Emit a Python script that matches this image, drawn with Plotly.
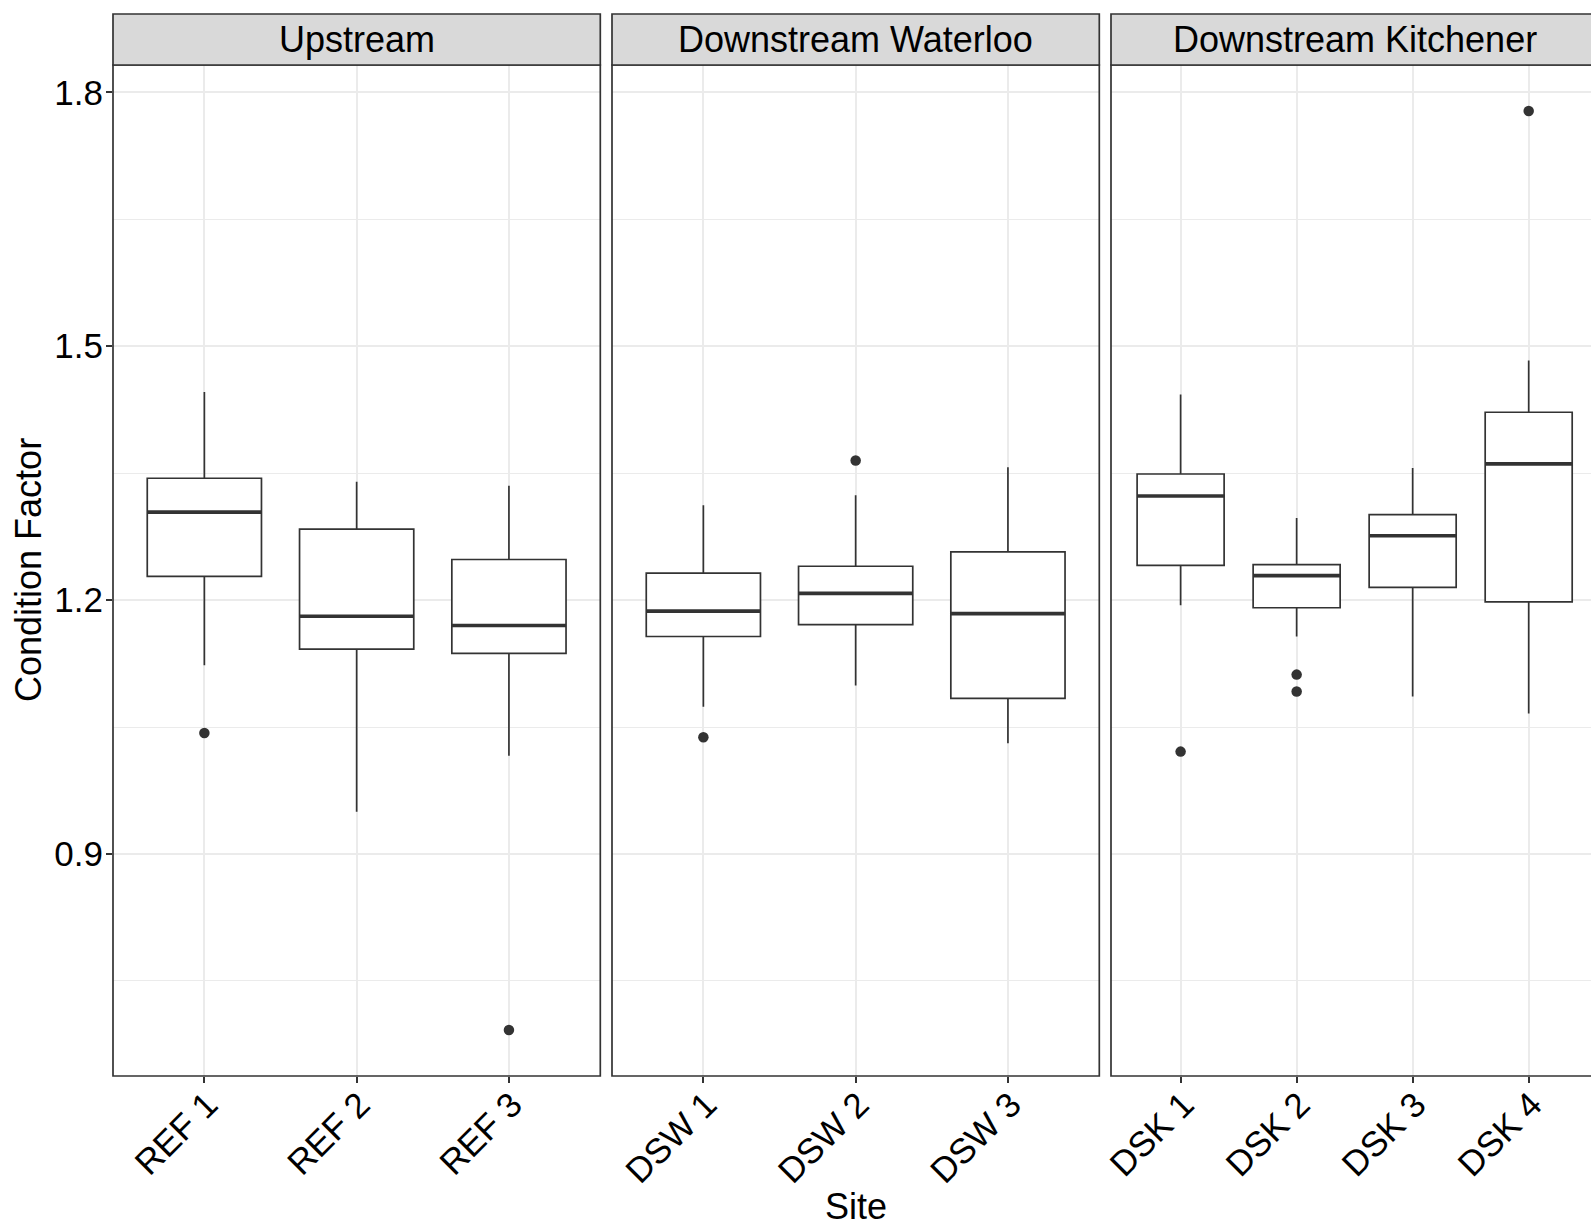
import plotly.graph_objects as go

# ---- data: condition factor summaries by site ----
panel_names = ["Upstream", "Downstream Waterloo", "Downstream Kitchener"]

ref_sites = ["REF 1", "REF 2", "REF 3"]
ref_lower = [1.123, 0.950, 1.016]
ref_q1 = [1.228, 1.142, 1.137]
ref_median = [1.304, 1.181, 1.170]
ref_q3 = [1.344, 1.284, 1.248]
ref_upper = [1.446, 1.340, 1.335]

dsw_sites = ["DSW 1", "DSW 2", "DSW 3"]
dsw_lower = [1.074, 1.099, 1.031]
dsw_q1 = [1.157, 1.171, 1.084]
dsw_median = [1.187, 1.208, 1.184]
dsw_q3 = [1.232, 1.240, 1.257]
dsw_upper = [1.312, 1.324, 1.357]

dsk_sites = ["DSK 1", "DSK 2", "DSK 3", "DSK 4"]
dsk_lower = [1.194, 1.157, 1.086, 1.066]
dsk_q1 = [1.241, 1.191, 1.215, 1.198]
dsk_median = [1.323, 1.229, 1.276, 1.361]
dsk_q3 = [1.349, 1.242, 1.301, 1.422]
dsk_upper = [1.443, 1.297, 1.356, 1.483]

outlier_sites = ["REF 1", "REF 3", "DSW 1", "DSW 2", "DSK 1", "DSK 2", "DSK 2", "DSK 4"]
outlier_values = [1.043, 0.692, 1.038, 1.365, 1.021, 1.112, 1.092, 1.778]

# ---- styling ----
FONT = "Liberation Sans, Arial, Helvetica, sans-serif"
DARK = "#333333"
GRID = "#EBEBEB"
STRIP = "#D9D9D9"
BOX_W = 0.75

W, H = 1591, 1228
ML, MT, MB = 113, 65, 152
PW = W - ML            # plotting width in px
PH = H - MT - MB       # plotting height in px
PANEL_PX = 487.3       # width of each facet panel
STEP_PX = 499.0        # panel width + spacing


def px_x(px):
    return px / PW


panels = [
    (ref_sites, ref_lower, ref_q1, ref_median, ref_q3, ref_upper),
    (dsw_sites, dsw_lower, dsw_q1, dsw_median, dsw_q3, dsw_upper),
    (dsk_sites, dsk_lower, dsk_q1, dsk_median, dsk_q3, dsk_upper),
]

all_vals = ref_lower + ref_upper + dsw_lower + dsw_upper + dsk_lower + dsk_upper + outlier_values
vmin, vmax = min(all_vals), max(all_vals)
pad = 0.05 * (vmax - vmin)
y_range = [vmin - pad, vmax + pad]

fig = go.Figure()
layout = {}
shapes = []
annotations = []

for i, (sites, lo, q1, med, q3, hi) in enumerate(panels):
    n = len(sites)
    pos = list(range(1, n + 1))
    sfx = "" if i == 0 else str(i + 1)
    xa, ya = "x" + sfx, "y" + sfx

    left_px = i * STEP_PX
    right_px = left_px + PANEL_PX
    unit_px = PANEL_PX / (n - 1 + 2 * 0.6)
    x_hi = 0.4 + (min(right_px, PW) - left_px) / unit_px

    fig.add_trace(go.Box(
        x=pos, q1=q1, median=med, q3=q3, lowerfence=lo, upperfence=hi,
        width=BOX_W, whiskerwidth=0, boxpoints=False,
        fillcolor="white", line=dict(color=DARK, width=1.7),
        xaxis=xa, yaxis=ya, showlegend=False,
    ))

    # thicker median bars
    mx, my = [], []
    for p, m in zip(pos, med):
        mx += [p - BOX_W / 2, p + BOX_W / 2, None]
        my += [m, m, None]
    fig.add_trace(go.Scatter(
        x=mx, y=my, mode="lines", line=dict(color=DARK, width=3.6),
        xaxis=xa, yaxis=ya, showlegend=False, hoverinfo="skip",
    ))

    # outlying points
    ox = [sites.index(s) + 1 for s in outlier_sites if s in sites]
    oy = [v for s, v in zip(outlier_sites, outlier_values) if s in sites]
    fig.add_trace(go.Scatter(
        x=ox, y=oy, mode="markers", marker=dict(color=DARK, size=10.5),
        xaxis=xa, yaxis=ya, showlegend=False,
    ))

    layout["xaxis" + sfx] = dict(
        domain=[px_x(left_px), min(1.0, px_x(right_px))],
        range=[0.4, x_hi], anchor=ya,
        tickmode="array", tickvals=pos, ticktext=sites, tickangle=-45,
        ticks="outside", ticklen=6, tickwidth=1.5, tickcolor=DARK,
        ticklabelstandoff=-13, ticklabelshift=3,
        tickfont=dict(family=FONT, size=35, color="black"),
        showgrid=True, gridcolor=GRID, gridwidth=2,
        zeroline=False, showline=False, fixedrange=True,
    )
    yax = dict(
        domain=[0, 1], range=y_range, anchor=xa,
        tickmode="linear", tick0=0.9, dtick=0.3, tickformat=".1f",
        showgrid=True, gridcolor=GRID, gridwidth=2,
        minor=dict(tickmode="array", tickvals=[0.75, 1.05, 1.35, 1.65],
                   showgrid=True, gridcolor=GRID, gridwidth=1, ticks=""),
        zeroline=False, showline=False, fixedrange=True,
    )
    if i == 0:
        yax.update(ticks="outside", ticklen=6, tickwidth=1.5, tickcolor=DARK,
                   ticklabelstandoff=-4,
                   tickfont=dict(family=FONT, size=35, color="black"))
    else:
        yax.update(matches="y", showticklabels=False, ticks="")
    layout["yaxis" + sfx] = yax

    # panel border and strip
    x0p, x1p = px_x(left_px), px_x(right_px)
    shapes.append(dict(type="rect", xref="paper", yref="paper",
                       x0=x0p, x1=x1p, y0=0, y1=1,
                       line=dict(color=DARK, width=1.7), layer="above"))
    shapes.append(dict(type="rect", xref="paper", yref="paper",
                       x0=x0p, x1=x1p, y0=1, y1=1 + 51 / PH,
                       fillcolor=STRIP, line=dict(color=DARK, width=1.7),
                       layer="above"))
    annotations.append(dict(
        text=panel_names[i], xref="paper", yref="paper",
        x=(x0p + x1p) / 2, y=1 + 25.5 / PH, xanchor="center", yanchor="middle",
        showarrow=False, font=dict(family=FONT, size=36, color="black"),
    ))

annotations.append(dict(
    text="Condition Factor", xref="paper", yref="paper",
    x=px_x(28.5 - ML), y=0.5, xanchor="center", yanchor="middle",
    textangle=-90, showarrow=False, font=dict(family=FONT, size=36, color="black"),
))
annotations.append(dict(
    text="Site", xref="paper", yref="paper",
    x=px_x(855.5 - ML), y=-MB / PH,
    xanchor="center", yanchor="bottom", borderpad=0,
    showarrow=False, font=dict(family=FONT, size=36, color="black"),
))

fig.update_layout(
    **layout,
    width=W, height=H,
    margin=dict(l=ML, r=0, t=MT, b=MB, pad=0),
    paper_bgcolor="white", plot_bgcolor="white",
    shapes=shapes, annotations=annotations,
    showlegend=False,
    font=dict(family=FONT),
)

fig.write_html("out.html")
